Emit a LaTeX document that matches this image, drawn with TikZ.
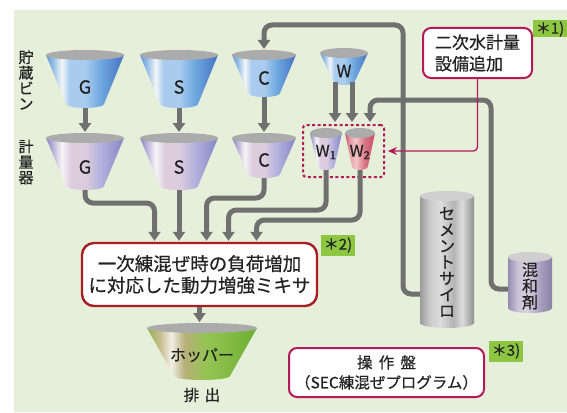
\documentclass[tikz,border=0pt]{standalone}
\usepackage{fontspec}
\setmainfont{Noto Sans CJK JP}[FakeBold=0.5]
\usepackage{tikz}
\usetikzlibrary{arrows.meta}

\definecolor{paper}{HTML}{E6EFDA}
\definecolor{pipegray}{HTML}{707070}
\definecolor{lidgray}{HTML}{ABABAB}
\definecolor{mixred}{HTML}{A81E22}
\definecolor{notered}{HTML}{B41A5A}
\definecolor{taggreen}{HTML}{8DC641}
\definecolor{inkgray}{HTML}{222222}
% stripe colours of the bins and tanks
\definecolor{bA}{HTML}{5E97D6}\definecolor{bB}{HTML}{9CC3EA}\definecolor{bW}{HTML}{F4F6F8}
\definecolor{bC}{HTML}{A9CCEE}\definecolor{bD}{HTML}{6EA8E0}\definecolor{bE}{HTML}{4672C2}
\definecolor{pA}{HTML}{8A82C2}\definecolor{pB}{HTML}{C0BADC}\definecolor{pW}{HTML}{F6F4F6}
\definecolor{pC}{HTML}{DCCCDE}\definecolor{pD}{HTML}{B4B2DE}\definecolor{pE}{HTML}{8486C6}
\definecolor{rA}{HTML}{C4566A}\definecolor{rB}{HTML}{E6A2AC}\definecolor{rC}{HTML}{F2C4C6}
\definecolor{rD}{HTML}{D97484}\definecolor{rE}{HTML}{C44E62}
\definecolor{gA}{HTML}{93B44E}\definecolor{gB}{HTML}{C8BC90}\definecolor{gW}{HTML}{F2F0E6}
\definecolor{gC}{HTML}{B8B07A}\definecolor{gD}{HTML}{94C452}\definecolor{gE}{HTML}{6DAF32}
\definecolor{sA}{HTML}{9C9C9C}\definecolor{sB}{HTML}{CBCBCB}\definecolor{sC}{HTML}{DCDCDC}
\definecolor{sD}{HTML}{B4B4B4}\definecolor{sE}{HTML}{8F8F8F}
\definecolor{aA}{HTML}{948CAE}\definecolor{aB}{HTML}{C8C0D6}\definecolor{aC}{HTML}{D8D2E0}
\definecolor{aD}{HTML}{A69EBE}\definecolor{aE}{HTML}{8A82A4}

\pgfdeclarehorizontalshading{binblue}{100bp}{color(0bp)=(bA); color(25bp)=(bA); color(30bp)=(bB);
  color(35bp)=(bW); color(40bp)=(bC); color(50bp)=(bC); color(60bp)=(bD); color(75bp)=(bE); color(100bp)=(bE)}
\pgfdeclarehorizontalshading{binpurple}{100bp}{color(0bp)=(pA); color(25bp)=(pA); color(30bp)=(pB);
  color(35bp)=(pW); color(41bp)=(pC); color(50bp)=(pC); color(60bp)=(pD); color(75bp)=(pE); color(100bp)=(pE)}
\pgfdeclarehorizontalshading{binred}{100bp}{color(0bp)=(rA); color(25bp)=(rA); color(34bp)=(rB);
  color(43bp)=(rC); color(58bp)=(rD); color(75bp)=(rE); color(100bp)=(rE)}
\pgfdeclarehorizontalshading{bingreen}{100bp}{color(0bp)=(gA); color(25bp)=(gA); color(31bp)=(gB);
  color(36bp)=(gW); color(42bp)=(gC); color(52bp)=(gD); color(75bp)=(gE); color(100bp)=(gE)}
\pgfdeclarehorizontalshading{silogray}{100bp}{color(0bp)=(sA); color(25bp)=(sA); color(34bp)=(sB);
  color(44bp)=(sC); color(56bp)=(sD); color(64bp)=(sC); color(75bp)=(sE); color(100bp)=(sE)}
\pgfdeclarehorizontalshading{admixgray}{100bp}{color(0bp)=(aA); color(25bp)=(aA); color(35bp)=(aB);
  color(46bp)=(aC); color(62bp)=(aD); color(75bp)=(aE); color(100bp)=(aE)}

% funnel: x, top y, top half width, bottom y, bottom half width, shading, name
\newcommand{\funnel}[7]{%
  \shade[shading=#6] (#1-#3,#2) -- (#1-#5,#4) arc[start angle=180,end angle=0,x radius=#5,y radius=4]
    -- (#1+#3,#2) -- cycle;
  \fill[lidgray] (#1,#2) ellipse[x radius=#3,y radius=5];
  \coordinate (#7-in) at (#1,#2-6);
  \coordinate (#7-out) at (#1,#4+4);
}
% tank: x, top y, half width, bottom y, shading
\newcommand{\tank}[5]{%
  \shade[shading=#5] (#1-#3,#2) -- (#1-#3,#4) arc[start angle=180,end angle=0,x radius=#3,y radius=5]
    -- (#1+#3,#2) -- cycle;
  \fill[sC!80!sA] (#1,#2) ellipse[x radius=#3,y radius=5];
}

\begin{document}
\begin{tikzpicture}[x=1pt,y=-1pt,
  pipe/.style={draw=pipegray,line width=5pt,rounded corners=8pt},
  feed/.style={pipe,-{Triangle[width=12pt,length=9pt]}},
  binlabel/.style={font=\fontsize{18}{18}\selectfont,text=inkgray,inner sep=0pt},
  vlabel/.style={font=\fontsize{15}{15.5}\selectfont,align=center,inner sep=0pt,text=inkgray},
  redbox/.style={draw=mixred,line width=2.4pt,rounded corners=12pt,fill=white,align=center,text=inkgray},
  notebox/.style={draw=notered,line width=2pt,rounded corners=8pt,fill=white,text=inkgray},
  tag/.style={fill=taggreen,inner sep=0pt,text=inkgray,font=\fontsize{15}{15}\selectfont}]

  \useasboundingbox (0,0) rectangle (567,412);
  \fill[paper] (14,10) rectangle (567,412);

  % row captions
  \node[vlabel] (binrow) at (26,80) {貯\\蔵\\ビ\\ン};
  \node[vlabel] (measrow) at (26,162) {計\\量\\器};

  % storage bins and weighing hoppers
  \funnel{85}{55}{39}{104}{19}{binblue}{gbin}
  \funnel{179}{55}{39}{104}{19}{binblue}{sbin}
  \funnel{264}{55}{32}{93}{16}{binblue}{cbin}
  \funnel{344}{53}{24}{81}{11}{binblue}{wbin}
  \funnel{85}{138}{39}{186}{19}{binpurple}{gmeas}
  \funnel{179}{138}{39}{186}{19}{binpurple}{smeas}
  \funnel{264}{138}{32}{174}{16}{binpurple}{cmeas}
  \funnel{326}{133}{16}{166}{8.5}{binpurple}{w1}
  \funnel{360}{133}{15}{166}{8}{binred}{w2}
  \funnel{202}{328}{55}{376}{28}{bingreen}{hopper}

  \node[binlabel] (glab) at (85,87) {G};
  \node[binlabel] (slab) at (179,87) {S};
  \node[binlabel] (clab) at (264,78) {C};
  \node[binlabel, font=\fontsize{17}{17}\selectfont] (wlab) at (344,71) {W};
  \node[binlabel] (gmlab) at (85,167) {G};
  \node[binlabel] (smlab) at (179,167) {S};
  \node[binlabel] (cmlab) at (264,160) {C};
  \node[binlabel, font=\fontsize{16}{16}\selectfont] (w1lab) at (326,152) {W\textsubscript{1}};
  \node[binlabel, font=\fontsize{16}{16}\selectfont] (w2lab) at (360,152) {W\textsubscript{2}};
  \node[binlabel, font=\fontsize{16}{16}\selectfont] (hoplab) at (202,355) {ホッパー};
  \node[binlabel, font=\fontsize{15.5}{15.5}\selectfont] (outlab) at (202,395) {排\hspace{0.35em}出};

  % silo and admixture tank
  \tank{447}{196}{27}{323}{silogray}
  \tank{530}{257}{22}{308}{admixgray}
  \node[vlabel, font=\fontsize{16}{16.2}\selectfont] (silo) at (447,262) {セ\\メ\\ン\\ト\\サ\\イ\\ロ};
  \node[vlabel, font=\fontsize{16}{16.2}\selectfont] (admix) at (530,286) {混\\和\\剤};

  % weighing group W1/W2
  \node[draw=notered, line width=2pt, dash pattern=on 3pt off 2.5pt, rounded corners=3pt,
    minimum width=81pt, minimum height=52pt, inner sep=0pt] (wbox) at (343.5,151) {};

  % mixer
  \node[redbox, minimum width=235pt, minimum height=63pt, font=\fontsize{18.5}{21.5}\selectfont]
    (mixer) at (199.5,274.5) {一次練混ぜ時の負荷増加\\に対応した動力増強ミキサ};

  % bins -> weighers
  \draw[feed] (gbin-out) -- (gmeas-in);
  \draw[feed] (sbin-out) -- (smeas-in);
  \draw[feed] (cbin-out) -- (cmeas-in);
  \draw[feed, shorten >=2pt] ([xshift=-9pt,yshift=3pt]wbin-out) -- ([xshift=-9pt]wbin-out |- wbox.north);
  \draw[feed, shorten >=2pt] ([xshift=8pt,yshift=3pt]wbin-out) -- ([xshift=8pt]wbin-out |- wbox.north);

  % silo -> cement bin, admixture -> W2
  \coordinate (silo-port) at (420,294);
  \coordinate (silo-turn) at (403,25);
  \draw[feed] (silo-port) -| (silo-turn) -| (cbin-in);
  \coordinate (admix-port) at (508,289);
  \coordinate (admix-turn) at (491,100);
  \draw[feed, shorten >=2pt] (admix-port) -| (admix-turn) -| ([xshift=26pt]wbin-out |- wbox.north);

  % weighers -> mixer
  \draw[feed, shorten >=1pt] (gmeas-out) -- ++(0,13) -| ([xshift=-45pt]mixer.north);
  \draw[feed, shorten >=1pt] (smeas-out) -- (smeas-out |- mixer.north);
  \draw[feed, shorten >=1pt] (cmeas-out) -- ++(0,20) -| ([xshift=7pt]mixer.north);
  \draw[feed, shorten >=1pt] (w1-out) -- ++(0,40) -| ([xshift=29pt]mixer.north);
  \draw[feed, shorten >=1pt] (w2-out) -- ++(0,50) -| ([xshift=57pt]mixer.north);
  \draw[feed] (mixer.south) -- (mixer.south |- hopper-in);

  % notes
  \node[notebox, align=left, minimum width=109pt, minimum height=50pt, font=\fontsize{17}{21.5}\selectfont]
    (addw) at (477.5,53) {二次水計量\\設備追加};
  \draw[notered, line width=1.3pt, rounded corners=4pt, -{Stealth[length=9pt,width=8pt]}]
    (addw.south) |- ([xshift=3pt]wbox.east);
  \node[notebox, align=center, minimum width=195pt, minimum height=49pt, font=\fontsize{15.5}{20}\selectfont]
    (panel) at (386.5,372.5) {操\hspace{0.4em}作\hspace{0.4em}盤\\（SEC練混ぜプログラム）};

  \node[tag, minimum width=34pt, minimum height=17pt] (tag1) at (550,29) {＊1)};
  \node[tag, minimum width=34pt, minimum height=21pt] (tag2) at (338,245) {＊2)};
  \node[tag, minimum width=34pt, minimum height=21pt] (tag3) at (506,351) {＊3)};
\end{tikzpicture}
\end{document}
